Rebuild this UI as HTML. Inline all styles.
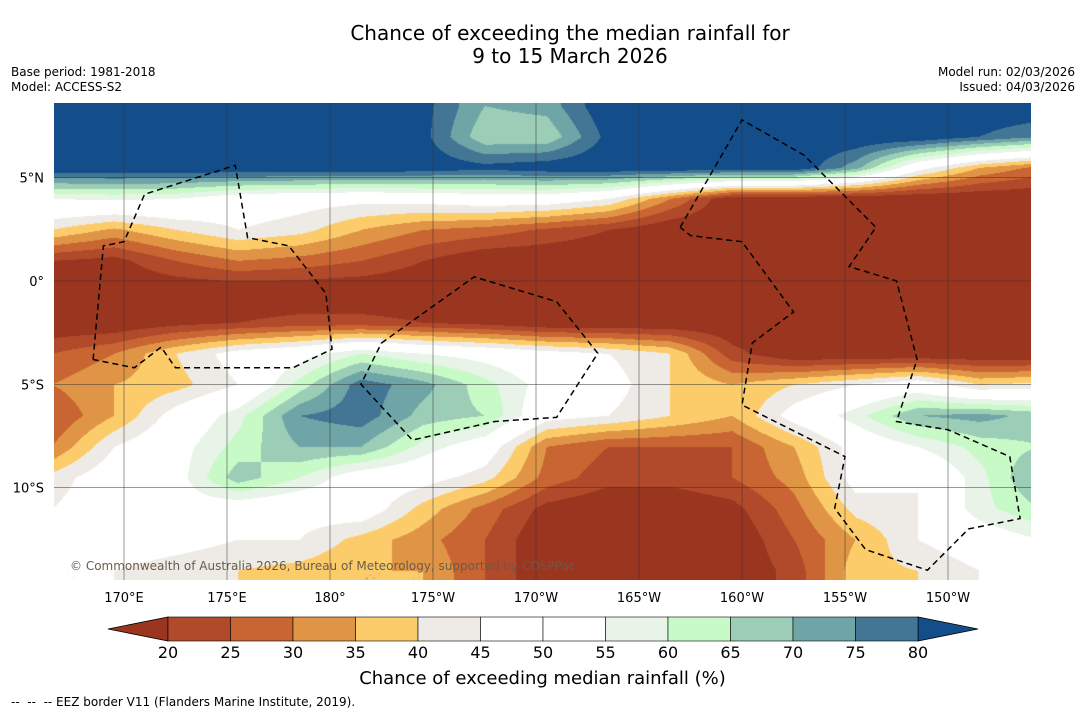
<!DOCTYPE html>
<html><head><meta charset="utf-8">
<style>
body{margin:0;background:#fff;font-family:"DejaVu Sans","Liberation Sans",sans-serif;}
#wrap{position:relative;width:1085px;height:713px;overflow:hidden;background:#fff}
.t{position:absolute;white-space:nowrap;color:#000}
</style></head><body>
<div id="wrap">
<div class="t" style="left:0;width:1140px;text-align:center;top:22px;font-size:20px;line-height:23px">Chance of exceeding the median rainfall for<br>9 to 15 March 2026</div>
<div class="t" style="left:11px;top:65px;font-size:12px;line-height:15px">Base period: 1981-2018<br>Model: ACCESS-S2</div>
<div class="t" style="right:10px;top:65px;font-size:12px;line-height:15px;text-align:right">Model run: 02/03/2026<br>Issued: 04/03/2026</div>
<canvas id="map" width="977" height="477" style="position:absolute;left:54px;top:103px"></canvas>
<svg id="ov" width="1085" height="713" style="position:absolute;left:0;top:0"></svg>
<div class="t" style="left:70px;top:559px;font-size:12px;color:#6b5a4a">© Commonwealth of Australia 2026, Bureau of Meteorology, supported by COSPPac</div>
<div class="t" style="left:0;width:1085px;text-align:center;top:668px;font-size:18px">Chance of exceeding median rainfall (%)</div>
<div class="t" style="left:11px;top:695px;font-size:12px">-- &nbsp;-- &nbsp;-- EEZ border V11 (Flanders Marine Institute, 2019).</div>
</div>
<script>
const lons=[166.5,169.5,172.5,175.5,178.5,181.5,184.5,187.5,190.5,193.5,196.5,199.5,202.5,205.5,208.5,211.5,214.5];
const lats=[8.5,7,5.5,4,2.5,1,-0.5,-2,-3.5,-5,-6.5,-8,-9.5,-11,-12.5,-14,-15.5];
const r0=[85,85,85,85,85,85,82,70,72,85,85,85,85,85,85,85,85];
const r1=[85,85,85,85,85,85,82,66,66,82,85,85,85,85,85,80,75];
const r2=[85,85,85,85,85,85,84,82,84,85,85,85,85,72,48,35,28];
const r3=[55,56,55,50,48,47,48,50,50,45,30,15,15,15,15,15,15];
const r4=[40,34,40,45,42,35,30,28,24,20,15,15,15,15,15,15,15];
const r5=[20,18,25,30,28,25,20,15,15,15,15,15,15,15,15,15,15];
const r6=[15,15,15,15,15,15,15,15,15,15,15,15,15,15,15,15,15];
const r7=[15,15,18,20,22,22,20,18,15,15,15,15,15,15,15,15,15];
const r8=[25,30,40,48,52,60,55,52,48,45,40,22,15,15,15,15,15];
const r9=[30,35,38,45,62,78,72,62,52,48,40,35,40,45,50,40,42];
const r10=[25,35,48,58,75,78,68,65,48,45,40,35,48,58,70,72,68];
const r11=[30,45,52,62,70,70,58,50,30,25,25,25,35,48,55,62,65];
const r12=[42,50,52,68,60,50,48,42,28,22,22,25,32,48,45,58,72];
const r13=[45,50,52,50,48,50,38,28,18,15,15,18,28,42,45,58,65];
const r14=[48,50,48,45,45,38,32,25,15,15,15,15,25,35,45,50,55];
const r15=[45,45,42,40,38,35,35,25,15,15,15,15,22,38,40,45,48];
const r16=[45,45,42,40,38,35,35,25,15,15,15,15,22,38,40,45,48];
const grid=[r0,r1,r2,r3,r4,r5,r6,r7,r8,r9,r10,r11,r12,r13,r14,r15,r16];
const levels=[20,25,30,35,40,45,50,55,60,65,70,75,80];
const colors=["#9a3520","#b04a2a","#c96532","#e09546","#fdcc6a","#eeebe6","#ffffff","#ffffff","#e8f4e8","#c8fac8","#9ccdb6","#6fa5a6","#427694","#144e8a"];
const lonTicks=[170,175,180,185,190,195,200,205,210];
const lonLabels=["170°E","175°E","180°","175°W","170°W","165°W","160°W","155°W","150°W"];
const latTicks=[5,0,-5,-10];
const latLabels=["5°N","0°","5°S","10°S"];
const eezA=[[168.5,-3.8],[169.0,1.7],[170.0,1.9],[171.0,4.2],[175.4,5.6],[176.0,2.1],[178.0,1.7],[179.8,-0.6],[180.1,-3.3],[178.2,-4.2],[176.0,-4.2],[172.5,-4.2],[171.8,-3.2],[170.5,-4.2],[168.5,-3.8]];
const eezB=[[182.5,-3.0],[187.0,0.2],[191.0,-1.0],[193.0,-3.5],[191.0,-6.6],[188.0,-6.8],[184.0,-7.7],[181.5,-5.0],[182.5,-3.0]];
const eezC=[[197.0,2.6],[200.0,7.8],[203.0,6.1],[206.5,2.6],[205.2,0.7],[207.5,0.0],[208.5,-3.8],[207.5,-6.8],[210.0,-7.2],[213.0,-8.5],[213.5,-11.5],[211.0,-12.0],[209.0,-14.0],[206.0,-13.0],[204.5,-11.0],[205.0,-8.5],[200.0,-6.0],[200.5,-3.0],[202.5,-1.5],[200.0,1.9],[197.5,2.2],[197.0,2.6]];
const X=lon=>124+(lon-170)*20.6;
const Y=lat=>281-lat*20.66;
function val(lon,lat){
  let fx=(lon-lons[0])/3, fy=(lats[0]-lat)/1.5;
  fx=Math.max(0,Math.min(lons.length-1.001,fx)); fy=Math.max(0,Math.min(lats.length-1.001,fy));
  const i=Math.floor(fx),j=Math.floor(fy),a=fx-i,b=fy-j;
  return grid[j][i]*(1-a)*(1-b)+grid[j][i+1]*a*(1-b)+grid[j+1][i]*(1-a)*b+grid[j+1][i+1]*a*b;
}
function cls(v){let k=0;while(k<levels.length&&v>=levels[k])k++;return k;}
function hex(c){return [parseInt(c.substr(1,2),16),parseInt(c.substr(3,2),16),parseInt(c.substr(5,2),16)];}
const rgb=colors.map(hex);
const cv=document.getElementById('map'),ctx=cv.getContext('2d');
const img=ctx.createImageData(977,477);
for(let py=0;py<477;py++){for(let px=0;px<977;px++){
  const lon=170+(px+54-124)/20.6, lat=(281-(py+103))/20.66;
  const c=rgb[cls(val(lon,lat))];const o=(py*977+px)*4;
  img.data[o]=c[0];img.data[o+1]=c[1];img.data[o+2]=c[2];img.data[o+3]=255;}}
ctx.putImageData(img,0,0);
const NS='http://www.w3.org/2000/svg',ov=document.getElementById('ov');
function el(t,a){const e=document.createElementNS(NS,t);for(const k in a)e.setAttribute(k,a[k]);ov.appendChild(e);return e;}
lonTicks.forEach((t,i)=>{
  const l=el('line',{x1:X(t),x2:X(t),y1:103,y2:580,stroke:'#333','stroke-width':0.5});
  
  
  const tx=el('text',{x:X(t),y:602,'font-size':13,'text-anchor':'middle','font-family':'DejaVu Sans, sans-serif'});tx.textContent=lonLabels[i];
  
  
});
latTicks.forEach((t,i)=>{
  const l=el('line',{x1:54,x2:1031,y1:Y(t),y2:Y(t),stroke:'#333','stroke-width':0.5});
  
  
  const tx=el('text',{x:44,y:Y(t)+5,'font-size':13,'text-anchor':'end','font-family':'DejaVu Sans, sans-serif'});tx.textContent=latLabels[i];
  
  
});
[eezA,eezB,eezC].forEach(p=>{
  const pl=el('polyline',{points:p.map(q=>X(q[0])+','+Y(q[1])).join(' '),fill:'none',stroke:'#000','stroke-width':1.5,'stroke-dasharray':'6,4'});
  
  
});
const cbL=168,cbR=918,cbT=617,cbB=641,seg=(cbR-cbL)/12;
const lt=el('polygon',{points:`108,629 ${cbL},${cbT} ${cbL},${cbB}`,fill:colors[0],stroke:'#000','stroke-width':0.8});


const rt=el('polygon',{points:`978,629 ${cbR},${cbT} ${cbR},${cbB}`,fill:colors[13],stroke:'#000','stroke-width':0.8});


for(let k=0;k<12;k++){
  const r=el('rect',{x:cbL+k*seg,y:cbT,width:seg,height:cbB-cbT,fill:colors[k+1],stroke:'#000','stroke-width':0.6});
  
  
}
levels.forEach((v,k)=>{
  const tx=el('text',{x:cbL+k*seg,y:658,'font-size':16,'text-anchor':'middle','font-family':'DejaVu Sans, sans-serif'});tx.textContent=v;
  
  
});
</script>
</body></html>
